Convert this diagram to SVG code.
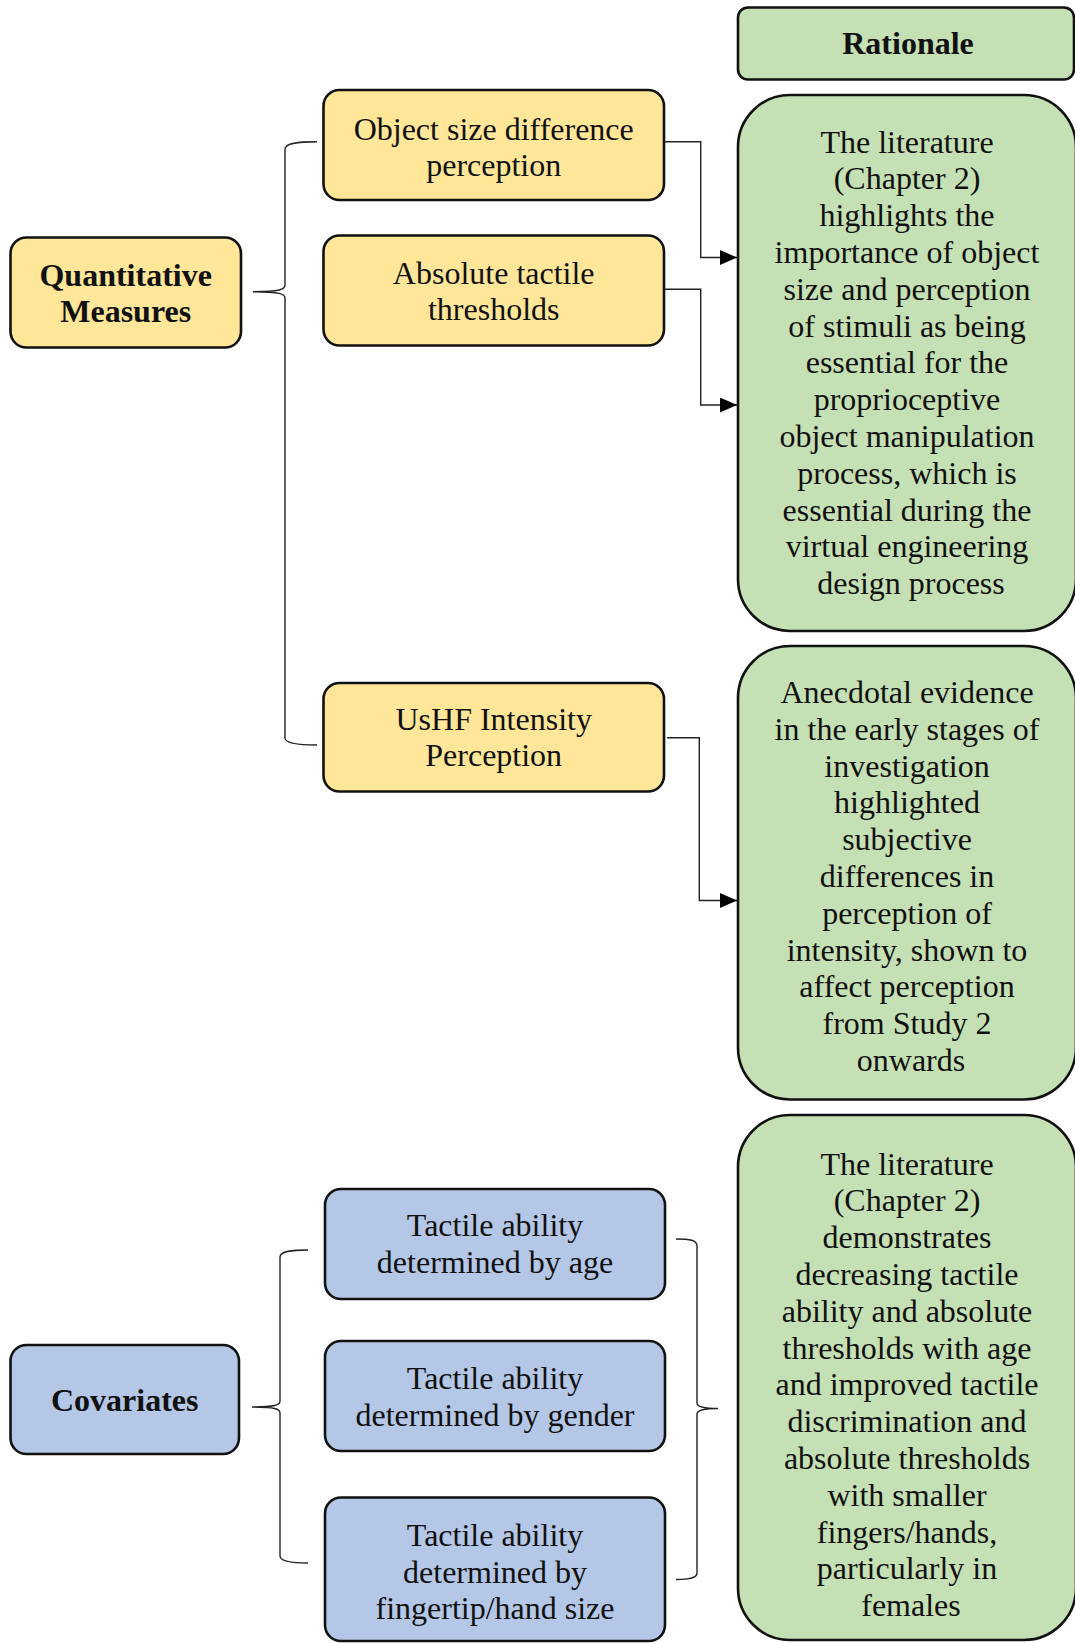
<svg xmlns="http://www.w3.org/2000/svg" width="1075" height="1643" viewBox="0 0 1075 1643">
  <style>
    .lbl { font-family: "Liberation Serif", "Times New Roman", serif; font-size: 32px; fill: #111; text-anchor: middle; }
    .bold { font-weight: bold; }
    .yel { fill: #FFE699; stroke: #111; stroke-width: 2.6; }
    .blu { fill: #B4C7E7; stroke: #111; stroke-width: 2.6; }
    .grn { fill: #C5E0B4; stroke: #111; stroke-width: 2.6; }
    .wire { fill: none; stroke: #222; stroke-width: 1.4; }
    .brace { fill: none; stroke: #222; stroke-width: 1.4; }
  </style>
  <defs>
    <marker id="arrow" markerUnits="userSpaceOnUse" markerWidth="17" markerHeight="15" refX="17" refY="7.5" orient="auto">
      <path d="M0,0 L17,7.5 L0,15 z" fill="#000"/>
    </marker>
  </defs>

  <rect width="1075" height="1643" fill="#fff"/>

  <!-- connectors and braces -->
  <g id="connectors">
    <path class="wire" d="M665,141.7 H700.7 V257.5 H737" marker-end="url(#arrow)"/>
    <path class="wire" d="M665,289.3 H700.7 V405 H737" marker-end="url(#arrow)"/>
    <path class="wire" d="M667,737.7 H699.3 V900.5 H737" marker-end="url(#arrow)"/>

    <path class="brace" d="M317,141.7 C298,141.7 285,143 285,149 L285,285 C285,289.5 280,291.7 253,291.7 C280,291.7 285,294 285,298 L285,738 C285,743 298,745 317,745"/>
    <path class="brace" d="M308,1250 C292,1250 280,1251 280,1257 L280,1401 C280,1405 275,1407 252,1407 C275,1407 280,1409 280,1413 L280,1556 C280,1561 292,1563 308,1563"/>
    <path class="brace" d="M676,1239 C690,1239 697,1240 697,1246 L697,1403 C697,1406 702,1408.5 718,1408.5 C702,1408.5 697,1411 697,1414 L697,1573 C697,1578 690,1579.5 676,1579.5"/>
  </g>

  <!-- category nodes -->
  <g id="quantitative-measures">
    <rect class="yel" x="10.5" y="237.5" width="230.5" height="110" rx="16"/>
    <text class="lbl bold" x="125.7" y="286">Quantitative</text>
    <text class="lbl bold" x="125.7" y="321.5">Measures</text>
  </g>
  <g id="covariates">
    <rect class="blu" x="10.5" y="1345" width="228.5" height="109" rx="16"/>
    <text class="lbl bold" x="124.7" y="1411">Covariates</text>
  </g>

  <!-- measure nodes -->
  <g id="object-size">
    <rect class="yel" x="323.5" y="90" width="340.5" height="110" rx="16"/>
    <text class="lbl" x="493.7" y="139.5">Object size difference</text>
    <text class="lbl" x="493.7" y="176">perception</text>
  </g>
  <g id="absolute-thresholds">
    <rect class="yel" x="323.5" y="235.5" width="340.5" height="110" rx="16"/>
    <text class="lbl" x="493.7" y="283.5">Absolute tactile</text>
    <text class="lbl" x="493.7" y="319.5">thresholds</text>
  </g>
  <g id="ushf-intensity">
    <rect class="yel" x="323.5" y="683" width="340.5" height="108.5" rx="16"/>
    <text class="lbl" x="493.7" y="730">UsHF Intensity</text>
    <text class="lbl" x="493.7" y="766">Perception</text>
  </g>

  <!-- covariate nodes -->
  <g id="age">
    <rect class="blu" x="325" y="1189" width="340" height="110" rx="16"/>
    <text class="lbl" x="495" y="1236">Tactile ability</text>
    <text class="lbl" x="495" y="1273">determined by age</text>
  </g>
  <g id="gender">
    <rect class="blu" x="325" y="1341" width="340" height="110" rx="16"/>
    <text class="lbl" x="495" y="1389">Tactile ability</text>
    <text class="lbl" x="495" y="1425.5">determined by gender</text>
  </g>
  <g id="hand-size">
    <rect class="blu" x="325" y="1497.5" width="340" height="143.5" rx="16"/>
    <text class="lbl" x="495" y="1546">Tactile ability</text>
    <text class="lbl" x="495" y="1583">determined by</text>
    <text class="lbl" x="495" y="1619">fingertip/hand size</text>
  </g>

  <!-- rationale column -->
  <g id="rationale-header">
    <rect class="grn" x="738" y="7.5" width="336" height="72" rx="10"/>
    <text class="lbl bold" x="908" y="53.5">Rationale</text>
  </g>
  <g id="rationale-size">
    <rect class="grn" x="738" y="95" width="338" height="536" rx="52"/>
    <text class="lbl" x="911" y="152.5">
      <tspan x="911">The literature</tspan>
      <tspan x="911" dy="36.8">(Chapter 2)</tspan>
      <tspan x="911" dy="36.8">highlights the</tspan>
      <tspan x="911" dy="36.8">importance of object</tspan>
      <tspan x="911" dy="36.8">size and perception</tspan>
      <tspan x="911" dy="36.8">of stimuli as being</tspan>
      <tspan x="911" dy="36.8">essential for the</tspan>
      <tspan x="911" dy="36.8">proprioceptive</tspan>
      <tspan x="911" dy="36.8">object manipulation</tspan>
      <tspan x="911" dy="36.8">process, which is</tspan>
      <tspan x="911" dy="36.8">essential during the</tspan>
      <tspan x="911" dy="36.8">virtual engineering</tspan>
      <tspan x="911" dy="36.8">design process</tspan>
    </text>
  </g>
  <g id="rationale-intensity">
    <rect class="grn" x="738" y="646" width="338" height="453.5" rx="52"/>
    <text class="lbl" x="911" y="703">
      <tspan x="911">Anecdotal evidence</tspan>
      <tspan x="911" dy="36.8">in the early stages of</tspan>
      <tspan x="911" dy="36.8">investigation</tspan>
      <tspan x="911" dy="36.8">highlighted</tspan>
      <tspan x="911" dy="36.8">subjective</tspan>
      <tspan x="911" dy="36.8">differences in</tspan>
      <tspan x="911" dy="36.8">perception of</tspan>
      <tspan x="911" dy="36.8">intensity, shown to</tspan>
      <tspan x="911" dy="36.8">affect perception</tspan>
      <tspan x="911" dy="36.8">from Study 2</tspan>
      <tspan x="911" dy="36.8">onwards</tspan>
    </text>
  </g>
  <g id="rationale-covariates">
    <rect class="grn" x="738" y="1115" width="338" height="525" rx="52"/>
    <text class="lbl" x="911" y="1174.5">
      <tspan x="911">The literature</tspan>
      <tspan x="911" dy="36.8">(Chapter 2)</tspan>
      <tspan x="911" dy="36.8">demonstrates</tspan>
      <tspan x="911" dy="36.8">decreasing tactile</tspan>
      <tspan x="911" dy="36.8">ability and absolute</tspan>
      <tspan x="911" dy="36.8">thresholds with age</tspan>
      <tspan x="911" dy="36.8">and improved tactile</tspan>
      <tspan x="911" dy="36.8">discrimination and</tspan>
      <tspan x="911" dy="36.8">absolute thresholds</tspan>
      <tspan x="911" dy="36.8">with smaller</tspan>
      <tspan x="911" dy="36.8">fingers/hands,</tspan>
      <tspan x="911" dy="36.8">particularly in</tspan>
      <tspan x="911" dy="36.8">females</tspan>
    </text>
  </g>
</svg>
